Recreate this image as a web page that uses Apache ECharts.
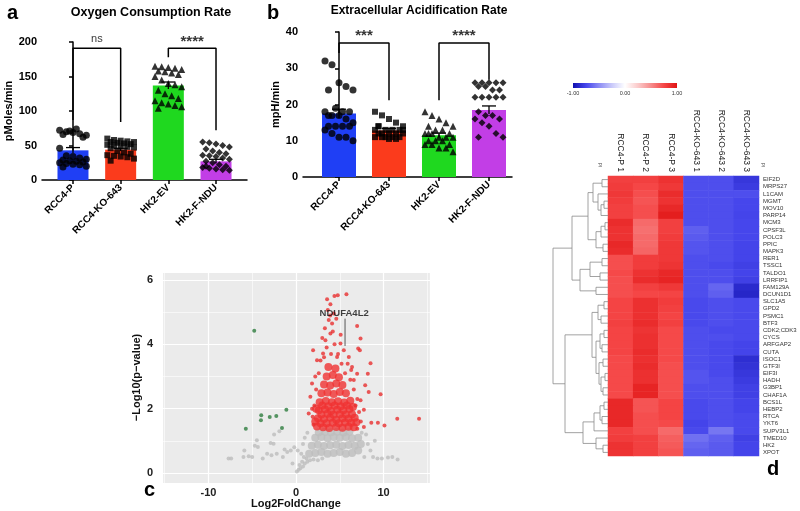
<!DOCTYPE html>
<html><head><meta charset="utf-8">
<script src="https://cdn.jsdelivr.net/npm/echarts@6/dist/echarts.min.js"></script>
<style>html,body{margin:0;padding:0;background:#fff}#c{width:800px;height:511px}</style>
</head><body><div id="c"></div>
<script>
// ---------- DATA ----------
const groups = ['RCC4-P', 'RCC4-KO-643', 'HK2-EV', 'HK2-F-NDU'];
const barColors = ['#1f3ff5', '#fb3b1c', '#1fd81f', '#c23ee6'];
const ocrMean = [43, 44, 137, 27];
const ocrSem = [4, 2, 5, 3];
const ocrP = [72,70,69,67,65,66,71,74,62,46,35,34,32,30,29,28,27,26,25,24,23,22,20,19];
const ocrKO = [60,58,57,56,55,55,54,53,52,51,50,49,48,47,46,42,40,38,36,35,34,33,31,28];
const ocrEV = [165,164,163,162,160,158,157,155,153,150,145,140,138,135,130,125,122,118,115,112,110,108,106,104];
const ocrNDU = [55,54,52,50,48,45,42,40,38,36,35,34,32,30,27,25,22,20,18,17,16,15,14,20];
const ecarMean = [17.5, 12.8, 11.5, 18.5];
const ecarSem = [1.2, 0.6, 0.6, 1.1];
const ecarP = [32,31,26,25,24,24,19,18,18,18,17,17,16,15,14,14,14,14,13,12,11,11,10,17];
const ecarKO = [18,17,16,15,14,14,13,13,13,13,12,12,12,12,12,11,11,11,11,11,10.5,10.5,13,14];
const ecarEV = [18,17,16,15,14,14,13,13,12,12,12,11,11,11,10,10,10,9,9,9,8,8,7,12];
const ecarNDU = [26,26,26,26,26,25,25,24,24,22,22,22,22,22,18,17,17,16,16,15,14,12,11,11];
// brackets: [fromGroup, toGroup, topValue, leftLegEnd, rightLegEnd, text]
const ocrBrackets = [[0,1,191,87,84,'ns'],[2,3,191,178,72,'****']];
const ecarBrackets = [[0,1,37,34.2,21.2,'***'],[2,3,37,21.2,26.8,'****']];

// volcano
const greenPts = [[-5.73,1.38],[-4.77,4.42],[-3.97,1.80],[-4.0,1.64],[-3.0,1.74],[-2.25,1.77],[-1.6,1.40],[-1.1,1.97]];
const redCorePts = [[2.4,1.45],[3.1,1.42],[3.8,1.4],[4.6,1.43],[5.3,1.41],[6.0,1.44],[6.6,1.42],
 [2.5,1.7],[3.2,1.68],[3.9,1.72],[4.6,1.66],[5.3,1.7],[6.0,1.69],[6.7,1.72],
 [2.6,1.95],[3.3,1.98],[4.0,1.93],[4.7,1.97],[5.4,1.95],[6.1,1.99],
 [2.7,2.2],[3.4,2.24],[4.1,2.2],[4.8,2.23],[5.5,2.19],[6.2,2.25],
 [2.9,2.48],[3.6,2.5],[4.3,2.46],[5.0,2.52],[5.7,2.48],
 [3.2,2.75],[3.9,2.72],[4.6,2.78],[5.3,2.74],
 [3.5,3.0],[4.2,3.05],[4.9,2.98],[3.7,3.3],[4.5,3.25],
 [2.2,1.6],[2.3,2.0],[6.5,2.05],[6.9,1.58],[2.8,1.55],[3.5,1.55],[4.2,1.56],[4.9,1.55],[5.6,1.57],[6.3,1.56],
 [2.9,1.82],[3.6,1.84],[4.3,1.81],[5.0,1.83],[5.7,1.82],[6.4,1.83],[3.0,2.1],[3.7,2.08],[4.4,2.1],[5.1,2.08],[5.8,2.1]];
const redPts = [[4.77,5.53],[4.39,5.50],[3.55,5.40],[3.93,5.25],[5.76,5.56],[3.63,5.07],[6.98,4.57],[7.37,4.18],
 [1.95,3.82],[7.1,3.87],[7.29,3.82],[8.51,3.41],[8.2,3.09],[9.66,2.45],[14.05,1.69],[11.56,1.69],[10.1,1.48],
 [9.35,1.56],[8.6,1.56],[7.75,1.97],[8.3,2.52],[7.9,2.73],[6.98,3.09],[6.4,3.3],[5.46,3.82],[5.08,4.03],
 [3.93,4.34],[4.12,4.65],[3.74,4.76],[4.31,4.96],[3.36,4.13],[3.09,3.72],[4.69,3.61],[2.4,3.51],[6.03,3.61],
 [6.6,2.89],[1.83,2.78],[1.64,2.37],[1.83,2.0],[1.45,1.85],[7.37,2.26],[7.75,1.43],
 [2.0,1.5],[1.9,1.75],[2.1,2.1],[2.3,2.6],[2.6,3.1],[2.8,3.5],[3.2,3.6],[3.5,3.9],[3.0,4.2],[4.4,4.0],
 [4.8,3.7],[5.2,3.4],[5.6,3.1],[6.2,2.9],[6.6,2.6],[7.0,2.3],[7.2,1.9],[7.4,1.6],[7.0,1.38],[5.9,3.4],
 [4.0,3.7],[3.3,4.5],[4.2,4.4],[4.6,4.8],[3.9,4.9],[5.1,4.3],[6.3,3.2],[2.2,3.0],[6.8,2.1]];
const greyCorePts = [[1.5,0.6],[2.2,0.62],[2.9,0.65],[3.6,0.6],[4.3,0.62],[5.0,0.65],[5.7,0.6],[6.4,0.62],[7.1,0.7],
 [1.8,0.85],[2.5,0.88],[3.2,0.84],[3.9,0.86],[4.6,0.88],[5.3,0.84],[6.0,0.87],[6.7,0.85],[7.4,0.9],
 [2.2,1.1],[2.9,1.12],[3.6,1.08],[4.3,1.12],[5.0,1.1],[5.7,1.12],[6.4,1.08],[7.1,1.1],
 [2.6,1.27],[3.3,1.28],[4.0,1.27],[4.7,1.28],[5.4,1.26],[6.1,1.28]];
const greyPts = [[0.1,0.05],[0.3,0.1],[0.5,0.15],[0.4,0.25],[0.8,0.2],[1.0,0.3],[0.7,0.35],[1.2,0.45],[0.9,0.5],
 [1.3,0.35],[1.6,0.4],[2.0,0.42],[2.5,0.4],[3.0,0.45],[0.6,0.6],[0.2,0.7],[-0.2,0.8],[0.8,0.9],[1.0,1.1],[1.3,1.25],
 [-0.6,0.7],[-1.0,0.65],[-1.3,0.73],[-2.2,0.6],[-2.8,0.55],[-2.9,0.93],[-2.56,0.91],[-3.8,0.45],[-4.47,1.02],[-4.35,0.81],
 [-4.7,0.85],[-5.0,0.5],[-5.4,0.52],[-5.9,0.7],[-6.0,0.5],[-7.4,0.45],[-7.7,0.45],[-1.5,0.5],[-0.4,0.3],[8.2,0.9],
 [8.5,0.7],[8.0,1.2],[8.8,0.5],[9.3,0.45],[9.8,0.45],[10.5,0.48],[11.0,0.5],[11.6,0.42],[9.0,1.0],[7.8,0.5],
 [7.5,1.25],[-2.5,1.2],[-1.9,1.3],[-3.3,0.6]];
const geneLabel = ['NDUFA4L2', 5.6, 3.95, 4.8];

// heatmap
const samples = ['RCC4-P 1','RCC4-P 2','RCC4-P 3','RCC4-KO-643 1','RCC4-KO-643 2','RCC4-KO-643 3'];
const genes = ['EIF2D','MRPS27','L1CAM','MGMT','MOV10','PARP14','MCM3','CPSF3L','POLC3','PPIC','MAPK3','RER1','TSSC1',
 'TALDO1','LRRFIP1','FAM129A','DCUN1D1','SLC1A5','GPD2','PSMC1','BTF3','CDK2;CDK3','CYCS','ARFGAP2','CUTA','ISOC1',
 'GTF3I','EIF3I','HADH','G3BP1','CHAF1A','BCS1L','HEBP2','RTCA','YKT6','SUPV3L1','TMED10','HK2','XPOT'];
const heatValues = [
 [0.78,0.78,0.85,-0.72,-0.72,-0.82],[0.8,0.75,0.82,-0.72,-0.72,-0.8],[0.82,0.72,0.88,-0.72,-0.72,-0.72],
 [0.8,0.7,0.85,-0.72,-0.72,-0.75],[0.78,0.72,0.9,-0.72,-0.72,-0.75],[0.78,0.72,0.95,-0.72,-0.72,-0.76],
 [0.88,0.62,0.78,-0.72,-0.72,-0.75],[0.85,0.6,0.78,-0.66,-0.72,-0.75],[0.85,0.62,0.8,-0.68,-0.72,-0.75],
 [0.9,0.62,0.82,-0.7,-0.72,-0.76],[0.88,0.64,0.82,-0.7,-0.72,-0.76],[0.72,0.8,0.82,-0.72,-0.72,-0.76],
 [0.72,0.8,0.84,-0.72,-0.74,-0.78],[0.74,0.85,0.9,-0.72,-0.72,-0.76],[0.72,0.88,0.92,-0.72,-0.72,-0.78],
 [0.72,0.78,0.82,-0.72,-0.64,-0.88],[0.72,0.75,0.76,-0.72,-0.66,-0.9],[0.76,0.86,0.8,-0.74,-0.72,-0.74],
 [0.76,0.86,0.78,-0.74,-0.72,-0.74],[0.76,0.86,0.76,-0.74,-0.72,-0.74],[0.78,0.88,0.78,-0.74,-0.72,-0.74],
 [0.76,0.84,0.74,-0.72,-0.74,-0.74],[0.76,0.86,0.74,-0.72,-0.72,-0.74],[0.76,0.86,0.74,-0.72,-0.74,-0.76],
 [0.76,0.88,0.74,-0.72,-0.74,-0.76],[0.74,0.86,0.74,-0.72,-0.74,-0.86],[0.74,0.88,0.72,-0.72,-0.74,-0.84],
 [0.74,0.86,0.72,-0.7,-0.74,-0.82],[0.74,0.86,0.72,-0.7,-0.72,-0.8],[0.74,0.92,0.72,-0.72,-0.72,-0.78],
 [0.74,0.92,0.72,-0.72,-0.72,-0.78],[0.9,0.7,0.76,-0.74,-0.72,-0.76],[0.9,0.7,0.76,-0.74,-0.72,-0.76],
 [0.9,0.72,0.76,-0.74,-0.72,-0.74],[0.9,0.72,0.74,-0.76,-0.72,-0.74],[0.78,0.72,0.62,-0.74,-0.58,-0.74],
 [0.8,0.78,0.66,-0.6,-0.66,-0.78],[0.85,0.78,0.68,-0.64,-0.68,-0.76],[0.85,0.78,0.7,-0.66,-0.68,-0.76]];
// dendrogram: [height, left, right] ; leaves = row index
const dendro = [55,
 [36, [20, [15,[6,0,1],[10,2,[7,[4,3,4],5]]], [12,[7,[3,6,7],8],[5,9,10]]],
      [28, [18,[6,11,12],[8,13,14]], [12,15,16]]],
 [43, [16, [10,[4,17,18],[7,19,20]], [12,[8,[4,21,22],[6,23,24]],[9,[5,25,26],[7,[3,27,28],[5,29,30]]]]],
      [25, [14,[8,[4,31,32],[6,33,34]],35], [12,36,[5,37,38]]]]];
const heatColors = ['#1010b0','#4646ec','#8c8cf4','#cacafa','#ffffff','#fbcaca','#f68c8c','#f54646','#e01414'];

// ---------- BUILD ----------
const FONT = '"Liberation Sans", Arial, sans-serif';
const JIT = [-0.28,-0.14,0,0.14,0.28,-0.21,-0.07,0.07,0.21];
const symbols = ['circle','rect','triangle','diamond'];
function jitter(vals, i){ return vals.map((v,k)=>[i + JIT[k % JIT.length], v]); }

function barPanel(gi, means, sems, pts, brackets, textOffset){
  const s = [];
  s.push({type:'bar', xAxisIndex:gi, yAxisIndex:gi, barWidth: gi===0?31:34,
    data: means.map((m,i)=>({value:[i,m], itemStyle:{color:barColors[i]}})), z:2});
  s.push({type:'custom', xAxisIndex:gi, yAxisIndex:gi, z:4, clip:false,
    data: means.map((m,i)=>[i, m - sems[i], m + sems[i]]),
    renderItem(params, api){
      const x = api.value(0);
      const p1 = api.coord([x, api.value(1)]), p2 = api.coord([x, api.value(2)]);
      const w = 7;
      return {type:'group', children:[
        {type:'line', shape:{x1:p1[0],y1:p1[1],x2:p2[0],y2:p2[1]}, style:{stroke:'#000',lineWidth:1.3}},
        {type:'line', shape:{x1:p2[0]-w,y1:p2[1],x2:p2[0]+w,y2:p2[1]}, style:{stroke:'#000',lineWidth:1.3}}]};
    }});
  pts.forEach((vals,i)=>{
    s.push({type:'scatter', xAxisIndex:gi, yAxisIndex:gi, symbol:symbols[i], symbolSize: i===1?6:7,
      itemStyle:{color:'#000'}, data: jitter(vals,i), z:3});
  });
  brackets.forEach(b=>{
    s.push({type:'line', xAxisIndex:gi, yAxisIndex:gi, symbol:'none', clip:false,
      lineStyle:{color:'#000', width:1.5}, data:[[b[0],b[3]],[b[0],b[2]],[b[1],b[2]],[b[1],b[4]]], z:5});
    s.push({type:'scatter', xAxisIndex:gi, yAxisIndex:gi, symbolSize:1, clip:false,
      itemStyle:{color:'rgba(0,0,0,0)'},
      label:{show:true, position:'inside', formatter:b[5], fontFamily:FONT,
        fontWeight: b[5]==='ns'?'normal':'bold', fontSize: b[5]==='ns'?11:15, color:'#000',
        offset:[0, b[5]==='ns'?0:3]},
      data:[[(b[0]+b[1])/2, b[2] + textOffset]], z:5});
  });
  return s;
}

// dendrogram segments
const dendroSegs = [];
function layoutTree(node){
  if (typeof node === 'number') return {h:0, y:node};
  const a = layoutTree(node[1]), b = layoutTree(node[2]);
  const h = node[0];
  dendroSegs.push({coords:[[a.h,a.y],[h,a.y],[h,b.y],[b.h,b.y]]});
  return {h, y:(a.y + b.y)/2};
}
layoutTree(dendro);

const heatData = [];
heatValues.forEach((row,r)=>row.forEach((v,c)=>heatData.push([c, r, v])));

const axisBlack = {lineStyle:{color:'#000', width:1.5}};
const barLabel = {fontFamily:FONT, fontWeight:'bold', fontSize:11, color:'#000'};

const option = {
  animation:false,
  backgroundColor:'#fff',
  title:[
    {text:'Oxygen Consumption Rate', left:146, top:1, textAlign:'center', textStyle:{fontFamily:FONT, fontWeight:'bold', fontSize:12.5, color:'#000'}},
    {text:'Extracellular Acidification Rate', left:414, top:0, textAlign:'center', textStyle:{fontFamily:FONT, fontWeight:'bold', fontSize:12, color:'#000'}},
    {text:'a', left:2, top:-2, textStyle:{fontFamily:FONT, fontWeight:'bold', fontSize:20, color:'#000'}},
    {text:'b', left:262, top:-2, textStyle:{fontFamily:FONT, fontWeight:'bold', fontSize:20, color:'#000'}},
    {text:'c', left:139, top:475, textStyle:{fontFamily:FONT, fontWeight:'bold', fontSize:20, color:'#000'}},
    {text:'d', left:762, top:454, textStyle:{fontFamily:FONT, fontWeight:'bold', fontSize:20, color:'#000'}}
  ],
  grid:[
    {left:42, top:42, width:205, height:138},
    {left:303, top:32, width:209, height:145},
    {left:162, top:272, width:268, height:211, show:true, backgroundColor:'#ebebeb', borderWidth:0},
    {left:548, top:176, width:60, height:280},
    {left:608, top:176, width:151, height:280},
    {left:573, top:83, width:104, height:5, show:true, borderWidth:0,
      backgroundColor:{type:'linear', x:0, y:0, x2:1, y2:0,
        colorStops: heatColors.map((c,i)=>({offset:i/(heatColors.length-1), color:c}))}}
  ],
  xAxis:[
    {gridIndex:0, type:'value', min:-0.65, max:3.65, splitLine:{show:false}, axisLine:axisBlack,
      axisTick:{customValues:[0,1,2,3], length:4, lineStyle:{color:'#000', width:1.5}},
      axisLabel:{customValues:[0,1,2,3], formatter:v=>groups[Math.round(v)], rotate:45, margin:6, ...barLabel, fontSize:10}},
    {gridIndex:1, type:'value', min:-0.72, max:3.46, splitLine:{show:false}, axisLine:axisBlack,
      axisTick:{customValues:[0,1,2,3], length:4, lineStyle:{color:'#000', width:1.5}},
      axisLabel:{customValues:[0,1,2,3], formatter:v=>groups[Math.round(v)], rotate:45, margin:6, ...barLabel, fontSize:10}},
    {gridIndex:2, type:'value', min:-15.3, max:15.3, minInterval:5, maxInterval:5, position:'bottom',
      axisLine:{show:false}, axisTick:{show:false},
      axisLabel:{formatter:v=>(Math.abs(v%10)<1e-9 ? String(v) : ''), margin:4, fontFamily:FONT, fontWeight:'bold', fontSize:11, color:'#222'},
      splitLine:{lineStyle:{color:'#fff', width:0.6}},
      name:'Log2FoldChange', nameLocation:'middle', nameGap:11,
      nameTextStyle:{fontFamily:FONT, fontWeight:'bold', fontSize:11, color:'#111'}},
    {gridIndex:2, type:'value', min:-15.3, max:15.3, minInterval:10, maxInterval:10, position:'top',
      axisLine:{show:false}, axisTick:{show:false}, axisLabel:{show:false},
      splitLine:{lineStyle:{color:'#fff', width:1.2}}},
    {gridIndex:3, type:'value', min:0, max:60, inverse:true, show:false},
    {gridIndex:4, type:'category', data:samples, position:'top', axisLine:{show:false}, axisTick:{show:false},
      axisLabel:{rotate:90, margin:4, fontFamily:FONT, fontSize:8.5, color:'#222'}, splitLine:{show:false}},
    {gridIndex:5, type:'value', min:-1, max:1, interval:1, axisLine:{show:false}, axisTick:{show:false},
      splitLine:{show:false}, axisLabel:{formatter:v=>v.toFixed(2), margin:2, fontFamily:FONT, fontSize:5.5, color:'#333'}}
  ],
  yAxis:[
    {gridIndex:0, type:'value', min:0, max:200, interval:50, splitLine:{show:false}, axisLine:{show:true, ...axisBlack},
      axisTick:{show:true, length:4, lineStyle:{color:'#000', width:1.5}}, axisLabel:{margin:5, ...barLabel},
      name:'pMoles/min', nameLocation:'middle', nameGap:25, nameTextStyle:{...barLabel}},
    {gridIndex:1, type:'value', min:0, max:40, interval:10, splitLine:{show:false}, axisLine:{show:true, ...axisBlack},
      axisTick:{show:true, length:4, lineStyle:{color:'#000', width:1.5}}, axisLabel:{margin:5, ...barLabel},
      name:'mpH/min', nameLocation:'middle', nameGap:20, nameTextStyle:{...barLabel}},
    {gridIndex:2, type:'value', min:-0.31, max:6.25, minInterval:1, maxInterval:1, position:'left',
      axisLine:{show:false}, axisTick:{show:false},
      axisLabel:{formatter:v=>(Math.abs(v%2)<1e-9 ? String(v) : ''), margin:9, fontFamily:FONT, fontWeight:'bold', fontSize:11, color:'#222'},
      splitLine:{lineStyle:{color:'#fff', width:0.6}},
      name:'\u2212Log10(p\u2212value)', nameLocation:'middle', nameGap:20,
      nameTextStyle:{fontFamily:FONT, fontWeight:'bold', fontSize:11, color:'#111'}},
    {gridIndex:2, type:'value', min:-0.31, max:6.25, minInterval:2, maxInterval:2, position:'right',
      axisLine:{show:false}, axisTick:{show:false}, axisLabel:{show:false},
      splitLine:{lineStyle:{color:'#fff', width:1.2}}},
    {gridIndex:3, type:'value', min:-0.5, max:38.5, inverse:true, show:false},
    {gridIndex:4, type:'category', data:genes, inverse:true, position:'right', axisLine:{show:false}, axisTick:{show:false},
      axisLabel:{margin:4, fontFamily:FONT, fontSize:6, color:'#333', interval:0}, splitLine:{show:false}},
    {gridIndex:5, type:'value', min:0, max:1, show:false}
  ],
  visualMap:{show:false, type:'continuous', min:-1, max:1, seriesIndex:0, inRange:{color:heatColors}},
  graphic:[
    {type:'text', left:598, top:163, rotation:Math.PI/2, style:{text:'id', fontSize:5, fill:'#555', fontFamily:FONT}},
    {type:'text', left:761, top:163, rotation:Math.PI/2, style:{text:'id', fontSize:5, fill:'#555', fontFamily:FONT}}
  ],
  series:[]
};

option.series.push({type:'heatmap', xAxisIndex:5, yAxisIndex:5, data:heatData, itemStyle:{borderWidth:0}});
option.series.push(...barPanel(0, ocrMean, ocrSem, [ocrP, ocrKO, ocrEV, ocrNDU], ocrBrackets, 13));
option.series.push(...barPanel(1, ecarMean, ecarSem, [ecarP, ecarKO, ecarEV, ecarNDU], ecarBrackets, 2.7));
// volcano (xAxis 2, yAxis 2)
option.series.push({type:'scatter', xAxisIndex:2, yAxisIndex:2, symbolSize:8, itemStyle:{color:'#bdbdbd'}, data:greyCorePts});
option.series.push({type:'scatter', xAxisIndex:2, yAxisIndex:2, symbolSize:4, itemStyle:{color:'#bdbdbd'}, data:greyPts});
option.series.push({type:'scatter', xAxisIndex:2, yAxisIndex:2, symbolSize:8, itemStyle:{color:'#f03232'}, data:redCorePts});
option.series.push({type:'scatter', xAxisIndex:2, yAxisIndex:2, symbolSize:4, itemStyle:{color:'#e83030'}, data:redPts});
option.series.push({type:'scatter', xAxisIndex:2, yAxisIndex:2, symbolSize:4, itemStyle:{color:'#2e7d3e'}, data:greenPts});
option.series.push({type:'line', xAxisIndex:2, yAxisIndex:2, symbol:'none', lineStyle:{color:'#333', width:0.8},
  data:[[geneLabel[1], geneLabel[2]], [geneLabel[1], geneLabel[3]]]});
option.series.push({type:'scatter', xAxisIndex:2, yAxisIndex:2, symbolSize:1, itemStyle:{color:'rgba(0,0,0,0)'},
  label:{show:true, position:'top', distance:0, formatter:geneLabel[0], fontFamily:FONT, fontWeight:'bold', fontSize:9.5, color:'#111'},
  data:[[geneLabel[1]-0.1, geneLabel[3]]]});
// dendrogram
option.series.push({type:'lines', coordinateSystem:'cartesian2d', xAxisIndex:4, yAxisIndex:4, polyline:true,
  lineStyle:{color:'#8a8a8a', width:0.8, opacity:1}, data:dendroSegs});

echarts.init(document.getElementById('c'), null, {renderer:'canvas'}).setOption(option);
</script></body></html>
